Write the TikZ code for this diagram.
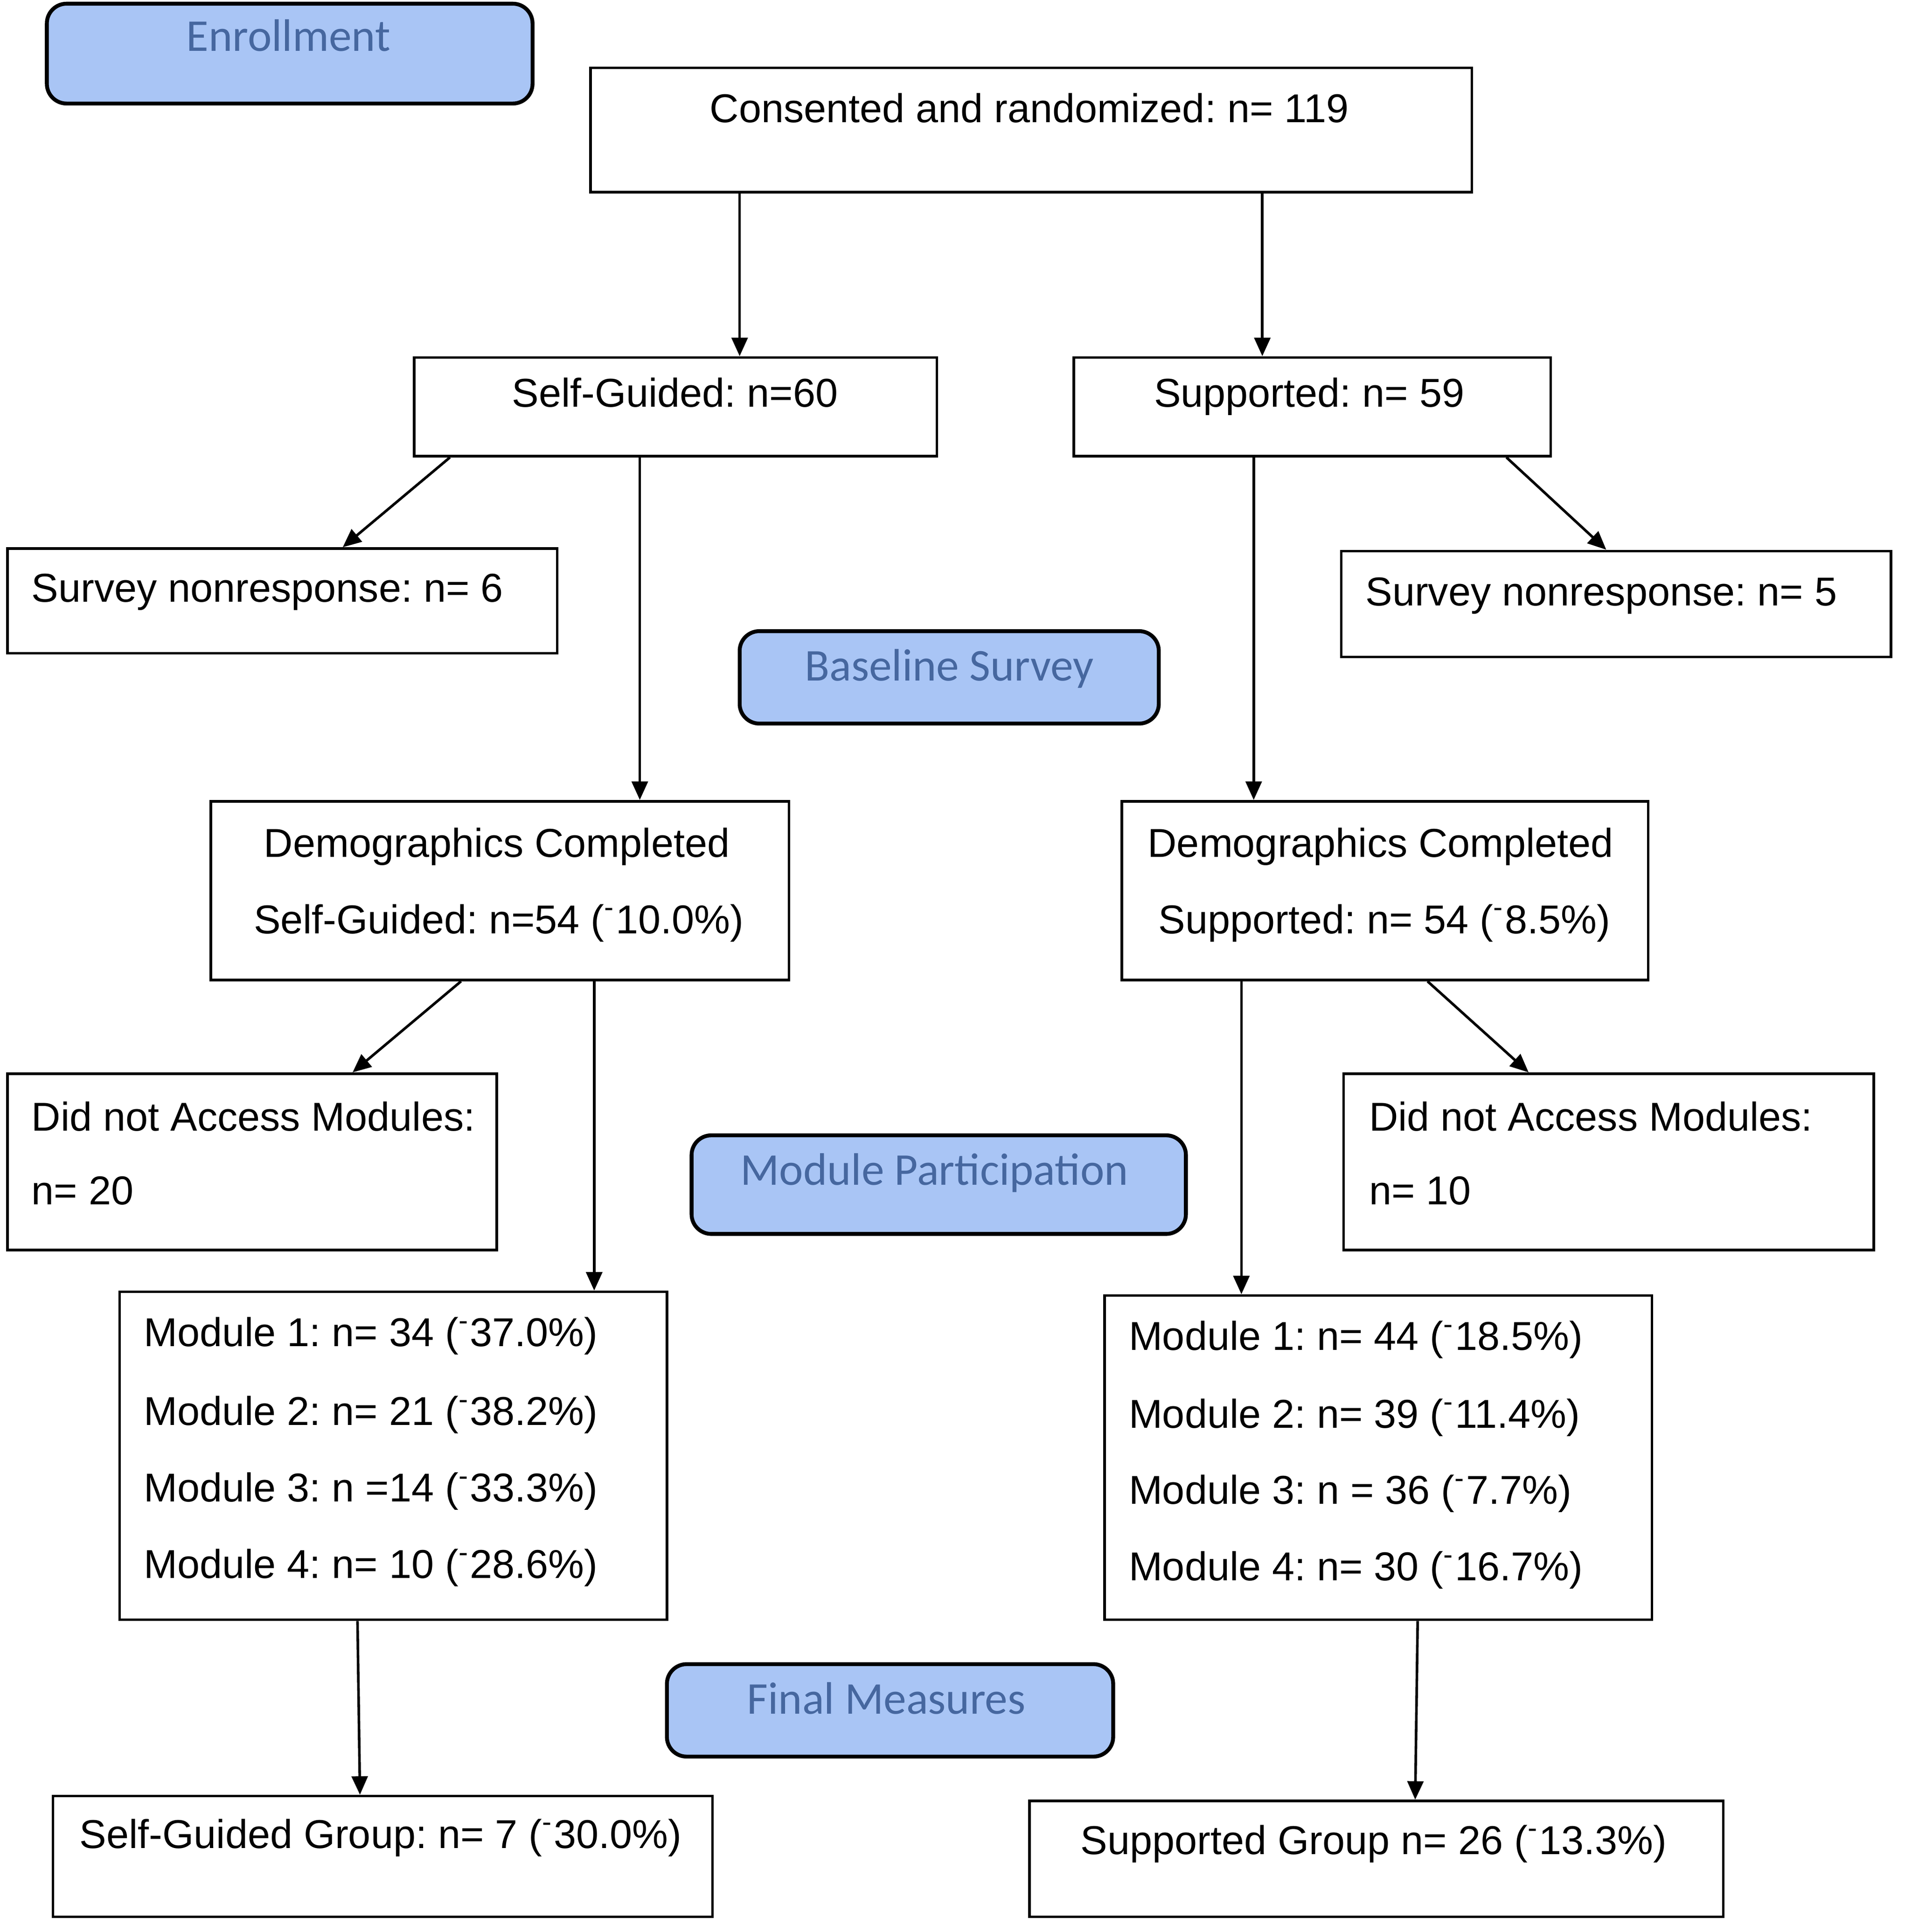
\documentclass[tikz,border=0pt]{standalone}
\usepackage{fontspec}
\setmainfont{Liberation Sans}
\newfontfamily\stagefont{Carlito}
\usetikzlibrary{arrows.meta}
\definecolor{stagefill}{HTML}{A9C5F5}
\definecolor{stagetext}{HTML}{46679F}
\frenchspacing

\begin{document}
\begin{tikzpicture}[
  box/.style={draw=black,line width=0.6pt,fill=white,inner sep=0pt},
  stage/.style={draw=black,line width=0.9pt,fill=stagefill,rounded corners=1.6mm,inner sep=0pt},
  txt/.style={inner sep=0pt,font=\fontsize{9.3}{11}\selectfont},
  stagetxt/.style={inner sep=0pt,text=stagetext,font=\stagefont\fontsize{10.5}{12}\selectfont},
  arr/.style={line width=0.6pt,-{Triangle[length=1.5mm,width=1.3mm]}}
]
\useasboundingbox (0,0) rectangle (15.45,-15.673);

% stage labels
\node[stage,minimum width=3.94cm,minimum height=0.81cm] (enroll) at (2.35,-0.435) {};
\node[stagetxt,anchor=mid] (enroll-t) at (2.34,-0.32) {Enrollment};
\node[stage,minimum width=3.40cm,minimum height=0.75cm] (base) at (7.70,-5.495) {};
\node[stagetxt,anchor=mid] (base-t) at (7.70,-5.43) {Baseline Survey};
\node[stage,minimum width=4.01cm,minimum height=0.80cm] (modpart) at (7.615,-9.61) {};
\node[stagetxt,anchor=mid] (modpart-t) at (7.58,-9.52) {Module Participation};
\node[stage,minimum width=3.62cm,minimum height=0.75cm] (final) at (7.22,-13.875) {};
\node[stagetxt,anchor=mid] (final-t) at (7.19,-13.81) {Final Measures};

% boxes
\node[box,minimum width=7.15cm,minimum height=1.01cm] (cons) at (8.365,-1.055) {};
\node[txt,anchor=mid] (cons-t) at (8.35,-0.90) {Consented and randomized: n= 119};

\node[box,minimum width=4.24cm,minimum height=0.80cm] (sg) at (5.48,-3.30) {};
\node[txt,anchor=mid] (sg-t) at (5.475,-3.21) {Self-Guided: n=60};
\node[box,minimum width=3.87cm,minimum height=0.80cm] (sup) at (10.645,-3.30) {};
\node[txt,anchor=mid] (sup-t) at (10.62,-3.21) {Supported: n= 59};

\node[box,minimum width=4.46cm,minimum height=0.85cm] (snrL) at (2.29,-4.875) {};
\node[txt,anchor=mid west] (snrL-t) at (0.25,-4.79) {Survey nonresponse: n= 6};
\node[box,minimum width=4.46cm,minimum height=0.86cm] (snrR) at (13.11,-4.90) {};
\node[txt,anchor=mid west] (snrR-t) at (11.07,-4.82) {Survey nonresponse: n= 5};

\node[box,minimum width=4.69cm,minimum height=1.45cm] (demoL) at (4.055,-7.225) {};
\node[txt,anchor=mid] (demoL-1) at (4.03,-6.86) {Demographics Completed};
\node[txt,anchor=mid] (demoL-2) at (4.045,-7.48) {Self-Guided: n=54 (\textsuperscript{-}10.0\%)};
\node[box,minimum width=4.27cm,minimum height=1.45cm] (demoR) at (11.235,-7.225) {};
\node[txt,anchor=mid] (demoR-1) at (11.20,-6.86) {Demographics Completed};
\node[txt,anchor=mid] (demoR-2) at (11.23,-7.48) {Supported: n= 54 (\textsuperscript{-}8.5\%)};

\node[box,minimum width=3.97cm,minimum height=1.43cm] (dnaL) at (2.045,-9.425) {};
\node[txt,anchor=mid west] (dnaL-1) at (0.25,-9.08) {Did not Access Modules:};
\node[txt,anchor=mid west] (dnaL-2) at (0.25,-9.68) {n= 20};
\node[box,minimum width=4.30cm,minimum height=1.43cm] (dnaR) at (13.05,-9.425) {};
\node[txt,anchor=mid west] (dnaR-1) at (11.10,-9.08) {Did not Access Modules:};
\node[txt,anchor=mid west] (dnaR-2) at (11.10,-9.68) {n= 10};

\node[box,minimum width=4.44cm,minimum height=2.66cm] (modL) at (3.19,-11.81) {};
\node[txt,anchor=mid west] (modL-1) at (1.16,-10.83) {Module 1: n= 34 (\textsuperscript{-}37.0\%)};
\node[txt,anchor=mid west] (modL-2) at (1.16,-11.47) {Module 2: n= 21 (\textsuperscript{-}38.2\%)};
\node[txt,anchor=mid west] (modL-3) at (1.16,-12.09) {Module 3: n =14 (\textsuperscript{-}33.3\%)};
\node[txt,anchor=mid west] (modL-4) at (1.16,-12.71) {Module 4: n= 10 (\textsuperscript{-}28.6\%)};
\node[box,minimum width=4.44cm,minimum height=2.63cm] (modR) at (11.18,-11.825) {};
\node[txt,anchor=mid west] (modR-1) at (9.15,-10.86) {Module 1: n= 44 (\textsuperscript{-}18.5\%)};
\node[txt,anchor=mid west] (modR-2) at (9.15,-11.49) {Module 2: n= 39 (\textsuperscript{-}11.4\%)};
\node[txt,anchor=mid west] (modR-3) at (9.15,-12.11) {Module 3: n = 36 (\textsuperscript{-}7.7\%)};
\node[txt,anchor=mid west] (modR-4) at (9.15,-12.73) {Module 4: n= 30 (\textsuperscript{-}16.7\%)};

\node[box,minimum width=5.35cm,minimum height=0.98cm] (sgG) at (3.105,-15.06) {};
\node[txt,anchor=mid west] (sgG-t) at (0.64,-14.90) {Self-Guided Group: n= 7 (\textsuperscript{-}30.0\%)};
\node[box,minimum width=5.63cm,minimum height=0.94cm] (supG) at (11.165,-15.08) {};
\node[txt,anchor=mid west] (supG-t) at (8.76,-14.95) {Supported Group n= 26 (\textsuperscript{-}13.3\%)};

% arrows
\draw[arr] ([xshift=-2.365cm]cons.south) -- ([xshift=-2.365cm]cons.south |- sg.north);
\draw[arr] ([xshift=1.875cm]cons.south) -- ([xshift=1.875cm]cons.south |- sup.north);
\draw[arr] ([xshift=-1.83cm]sg.south) -- ([xshift=0.49cm]snrL.north);
\draw[arr] ([xshift=-0.29cm]sg.south) -- ([xshift=-0.29cm]sg.south |- demoL.north);
\draw[arr] ([xshift=1.575cm]sup.south) -- ([xshift=-0.08cm]snrR.north);
\draw[arr] ([xshift=-0.475cm]sup.south) -- ([xshift=-0.475cm]sup.south |- demoR.north);
\draw[arr] ([xshift=-0.315cm]demoL.south) -- ([xshift=0.815cm]dnaL.north);
\draw[arr] ([xshift=0.765cm]demoL.south) -- ([xshift=0.765cm]demoL.south |- modL.north);
\draw[arr] ([xshift=0.345cm]demoR.south) -- ([xshift=-0.65cm]dnaR.north);
\draw[arr] ([xshift=-1.165cm]demoR.south) -- ([xshift=-1.165cm]demoR.south |- modR.north);
\draw[arr] ([xshift=-0.29cm]modL.south) -- ([xshift=-0.185cm]sgG.north);
\draw[arr] ([xshift=0.32cm]modR.south) -- ([xshift=0.315cm]supG.north);
\end{tikzpicture}
\end{document}
